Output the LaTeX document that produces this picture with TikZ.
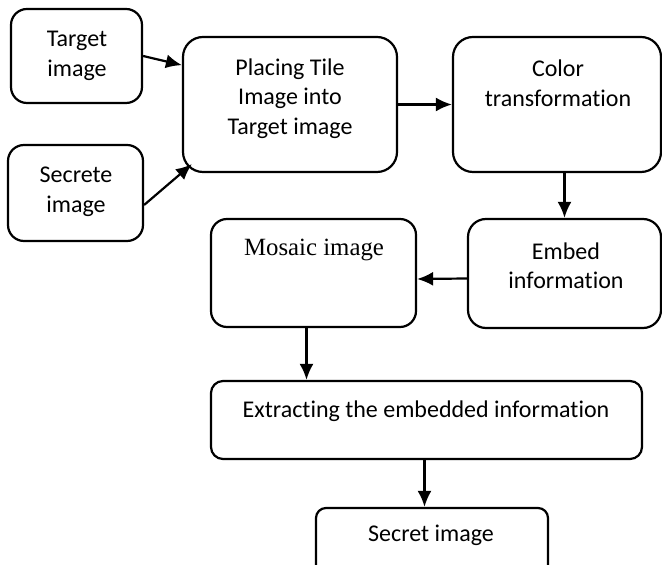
\documentclass[tikz,border=0pt]{standalone}
\usepackage{fontspec}
\setmainfont[Ligatures=NoCommon]{Carlito}
\newfontfamily\serifbox{Liberation Serif}
\usetikzlibrary{arrows.meta, calc, positioning}

\begin{document}
\begin{tikzpicture}[x=0.5pt, y=-0.5pt, >={Latex[length=8pt, width=7pt]},
    line width=1.1pt, font=\fontsize{12}{14.75}\selectfont,
    blk/.style={draw, rounded corners=8pt, inner sep=0pt, line width=1.1pt},
    txt/.style={align=center, inner sep=0pt}]
  \useasboundingbox (0,0) rectangle (662,565);

  % boxes, sizes in pixels of the scan
  \node[blk, minimum width=65.5pt, minimum height=47pt] at (76.5,56) (target) {};
  \node[blk, minimum width=67.5pt, minimum height=48pt] at (75.5,193) (secrete) {};
  \node[blk, rounded corners=10pt, minimum width=107pt, minimum height=67.5pt] at (290,104.5) (placing) {};
  \node[blk, rounded corners=10pt, minimum width=104pt, minimum height=67.5pt] at (557,104.5) (color) {};
  \node[blk, rounded corners=9pt, minimum width=96.5pt, minimum height=54.5pt] at (564.5,273.5) (embed) {};
  \node[blk, minimum width=102.5pt, minimum height=54pt] at (313.5,273) (mosaic) {};
  \node[blk, rounded corners=6pt, minimum width=215.5pt, minimum height=39pt] at (426.5,420) (extract) {};
  \node[blk, rounded corners=5pt, minimum width=116pt, minimum height=40pt] at (432,548) (secret) {};

  % texts
  \node[txt] at (77,56) (target-txt) {Target\\image};
  \node[txt] at (76,192) (secrete-txt) {Secrete\\image};
  \node[txt] at (290,98.5) (placing-txt) {Placing Tile\\Image into\\Target image};
  \node[txt] at (558,83.5) (color-txt) {Color\\transformation};
  \node[txt] at (566,266) (embed-txt) {Embed\\information};
  \node[txt, font=\serifbox\fontsize{12.4}{14.75}\selectfont] at (314,250) (mosaic-txt) {Mosaic image};
  \node[txt] at (426,411) (extract-txt) {Extracting the embedded information};
  \node[txt] at (431,535) (secret-txt) {Secret image};

  \draw[->] (target.east) -- (placing.160);
  \draw[->] ($(secrete.east)+(0,12)$) -- ($(placing.south west)+(10,-9)$);
  \draw[->] (placing.east) -- (color.west);
  \draw[->] (color.south -| embed) -- (embed.north);
  \draw[->] ($(embed.west)+(0,5)$) -- ($(mosaic.east)+(0,6)$);
  \draw[->] ($(mosaic.south)+(-7,0)$) -- ($(mosaic.south |- extract.north)+(-7,0)$);
  \draw[->] ($(extract.south)+(-2,0)$) -- ($(extract.south |- secret.north)+(-2,0)$);
\end{tikzpicture}
\end{document}
